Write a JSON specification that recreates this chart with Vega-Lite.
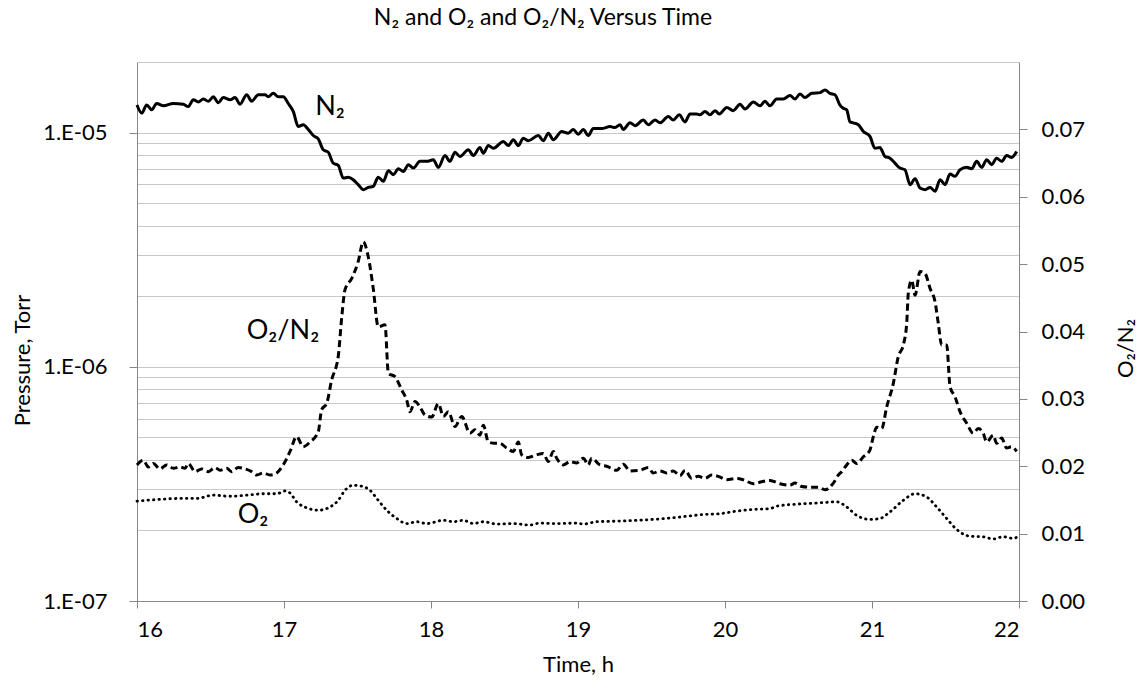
{
  "$schema": "https://vega.github.io/schema/vega-lite/v6.json",
  "width": 882,
  "height": 539,
  "autosize": {"type": "none"},
  "padding": {"left": 137, "top": 62, "right": 122, "bottom": 84},
  "background": "white",
  "config": {
    "font": "Lato",
    "view": {"stroke": null},
    "axis": {
      "labelFont": "Lato", "titleFont": "Lato", "labelColor": "#000", "titleColor": "#000",
      "domainColor": "#868686", "tickColor": "#868686", "labelFontSize": 22, "titleFontSize": 22,
      "titleFontWeight": "normal", "labelOverlap": false
    }
  },
  "title": {"text": "N₂ and O₂ and O₂/N₂ Versus Time", "fontSize": 23, "fontWeight": "normal", "font": "Lato", "color": "#000", "anchor": "middle", "dx": -35, "offset": 21},
  "datasets": {
    "n2": [
      {"t":16.000,"p":1.31e-5},{"t":16.032,"p":1.21e-5},{"t":16.066,"p":1.31e-5},{"t":16.100,"p":1.25e-5},{"t":16.134,"p":1.33e-5},
      {"t":16.179,"p":1.30e-5},{"t":16.247,"p":1.33e-5},{"t":16.315,"p":1.32e-5},{"t":16.349,"p":1.29e-5},{"t":16.383,"p":1.38e-5},
      {"t":16.417,"p":1.35e-5},{"t":16.451,"p":1.39e-5},{"t":16.485,"p":1.36e-5},{"t":16.519,"p":1.42e-5},{"t":16.553,"p":1.34e-5},
      {"t":16.587,"p":1.41e-5},{"t":16.633,"p":1.38e-5},{"t":16.667,"p":1.41e-5},{"t":16.701,"p":1.32e-5},{"t":16.746,"p":1.45e-5},
      {"t":16.780,"p":1.36e-5},{"t":16.825,"p":1.45e-5},{"t":16.871,"p":1.45e-5},{"t":16.893,"p":1.42e-5},{"t":16.927,"p":1.47e-5},
      {"t":16.961,"p":1.42e-5},{"t":16.995,"p":1.42e-5},{"t":17.029,"p":1.33e-5},{"t":17.063,"p":1.23e-5},{"t":17.097,"p":1.06e-5},
      {"t":17.131,"p":1.08e-5},{"t":17.165,"p":1.03e-5},{"t":17.199,"p":9.71e-6},{"t":17.233,"p":9.40e-6},{"t":17.267,"p":8.44e-6},
      {"t":17.301,"p":8.24e-6},{"t":17.335,"p":7.40e-6},{"t":17.369,"p":7.24e-6},{"t":17.403,"p":6.39e-6},{"t":17.437,"p":6.44e-6},
      {"t":17.471,"p":6.29e-6},{"t":17.505,"p":5.99e-6},{"t":17.539,"p":5.70e-6},{"t":17.573,"p":5.83e-6},{"t":17.607,"p":5.89e-6},
      {"t":17.641,"p":6.44e-6},{"t":17.676,"p":6.19e-6},{"t":17.710,"p":6.87e-6},{"t":17.744,"p":6.61e-6},{"t":17.778,"p":7.01e-6},
      {"t":17.812,"p":6.82e-6},{"t":17.846,"p":7.29e-6},{"t":17.880,"p":7.05e-6},{"t":17.925,"p":7.53e-6},{"t":17.971,"p":7.53e-6},
      {"t":18.016,"p":7.65e-6},{"t":18.050,"p":7.10e-6},{"t":18.095,"p":7.98e-6},{"t":18.129,"p":7.53e-6},{"t":18.163,"p":8.24e-6},
      {"t":18.197,"p":7.90e-6},{"t":18.254,"p":8.44e-6},{"t":18.288,"p":7.98e-6},{"t":18.333,"p":8.63e-6},{"t":18.356,"p":8.16e-6},
      {"t":18.390,"p":8.80e-6},{"t":18.424,"p":8.57e-6},{"t":18.492,"p":9.16e-6},{"t":18.526,"p":8.80e-6},{"t":18.560,"p":9.31e-6},
      {"t":18.594,"p":8.80e-6},{"t":18.628,"p":9.46e-6},{"t":18.662,"p":9.22e-6},{"t":18.730,"p":9.71e-6},{"t":18.764,"p":9.22e-6},
      {"t":18.798,"p":9.93e-6},{"t":18.832,"p":9.31e-6},{"t":18.889,"p":1.01e-5},{"t":18.934,"p":9.93e-6},{"t":18.968,"p":1.03e-5},
      {"t":19.002,"p":9.83e-6},{"t":19.036,"p":1.03e-5},{"t":19.070,"p":9.71e-6},{"t":19.104,"p":1.04e-5},{"t":19.161,"p":1.04e-5},
      {"t":19.218,"p":1.06e-5},{"t":19.252,"p":1.05e-5},{"t":19.286,"p":1.08e-5},{"t":19.308,"p":1.03e-5},{"t":19.354,"p":1.10e-5},
      {"t":19.388,"p":1.07e-5},{"t":19.444,"p":1.13e-5},{"t":19.478,"p":1.08e-5},{"t":19.524,"p":1.13e-5},{"t":19.558,"p":1.10e-5},
      {"t":19.614,"p":1.17e-5},{"t":19.648,"p":1.13e-5},{"t":19.689,"p":1.19e-5},{"t":19.728,"p":1.11e-5},{"t":19.762,"p":1.20e-5},
      {"t":19.807,"p":1.20e-5},{"t":19.830,"p":1.19e-5},{"t":19.864,"p":1.23e-5},{"t":19.898,"p":1.19e-5},{"t":19.932,"p":1.24e-5},
      {"t":19.961,"p":1.20e-5},{"t":20.012,"p":1.28e-5},{"t":20.056,"p":1.24e-5},{"t":20.102,"p":1.32e-5},{"t":20.136,"p":1.26e-5},
      {"t":20.193,"p":1.35e-5},{"t":20.238,"p":1.30e-5},{"t":20.272,"p":1.36e-5},{"t":20.306,"p":1.30e-5},{"t":20.352,"p":1.39e-5},
      {"t":20.397,"p":1.39e-5},{"t":20.442,"p":1.44e-5},{"t":20.476,"p":1.39e-5},{"t":20.510,"p":1.46e-5},{"t":20.544,"p":1.41e-5},
      {"t":20.590,"p":1.47e-5},{"t":20.646,"p":1.48e-5},{"t":20.680,"p":1.52e-5},{"t":20.714,"p":1.47e-5},{"t":20.748,"p":1.45e-5},
      {"t":20.782,"p":1.31e-5},{"t":20.805,"p":1.27e-5},{"t":20.828,"p":1.25e-5},{"t":20.850,"p":1.11e-5},{"t":20.873,"p":1.10e-5},
      {"t":20.907,"p":1.08e-5},{"t":20.941,"p":1.01e-5},{"t":20.986,"p":9.62e-6},{"t":21.020,"p":8.57e-6},{"t":21.054,"p":8.63e-6},
      {"t":21.088,"p":7.90e-6},{"t":21.122,"p":7.77e-6},{"t":21.156,"p":7.40e-6},{"t":21.190,"p":7.05e-6},{"t":21.224,"p":6.94e-6},
      {"t":21.259,"p":5.99e-6},{"t":21.293,"p":6.35e-6},{"t":21.327,"p":5.79e-6},{"t":21.361,"p":5.70e-6},{"t":21.395,"p":5.83e-6},
      {"t":21.429,"p":5.61e-6},{"t":21.463,"p":6.29e-6},{"t":21.497,"p":5.99e-6},{"t":21.531,"p":6.65e-6},{"t":21.565,"p":6.50e-6},
      {"t":21.599,"p":6.94e-6},{"t":21.644,"p":7.10e-6},{"t":21.678,"p":7.01e-6},{"t":21.712,"p":7.53e-6},{"t":21.746,"p":7.10e-6},
      {"t":21.780,"p":7.65e-6},{"t":21.814,"p":7.29e-6},{"t":21.848,"p":7.77e-6},{"t":21.882,"p":7.53e-6},{"t":21.916,"p":7.98e-6},
      {"t":21.950,"p":7.83e-6},{"t":21.984,"p":8.30e-6}
    ],
    "o2": [
      {"t":16.000,"p":2.67e-7},{"t":16.134,"p":2.71e-7},{"t":16.293,"p":2.74e-7},{"t":16.406,"p":2.74e-7},{"t":16.519,"p":2.83e-7},
      {"t":16.633,"p":2.80e-7},{"t":16.746,"p":2.83e-7},{"t":16.859,"p":2.87e-7},{"t":16.950,"p":2.87e-7},{"t":17.007,"p":2.95e-7},
      {"t":17.041,"p":2.89e-7},{"t":17.086,"p":2.65e-7},{"t":17.154,"p":2.50e-7},{"t":17.233,"p":2.44e-7},{"t":17.313,"p":2.52e-7},
      {"t":17.369,"p":2.69e-7},{"t":17.415,"p":2.97e-7},{"t":17.471,"p":3.12e-7},{"t":17.529,"p":3.09e-7},{"t":17.585,"p":2.97e-7},
      {"t":17.641,"p":2.69e-7},{"t":17.699,"p":2.44e-7},{"t":17.767,"p":2.25e-7},{"t":17.835,"p":2.14e-7},{"t":17.903,"p":2.18e-7},
      {"t":17.971,"p":2.14e-7},{"t":18.084,"p":2.21e-7},{"t":18.152,"p":2.18e-7},{"t":18.220,"p":2.21e-7},{"t":18.288,"p":2.14e-7},
      {"t":18.356,"p":2.18e-7},{"t":18.447,"p":2.13e-7},{"t":18.560,"p":2.14e-7},{"t":18.673,"p":2.11e-7},{"t":18.741,"p":2.15e-7},
      {"t":18.855,"p":2.14e-7},{"t":18.991,"p":2.15e-7},{"t":19.036,"p":2.13e-7},{"t":19.127,"p":2.18e-7},{"t":19.240,"p":2.19e-7},
      {"t":19.399,"p":2.21e-7},{"t":19.512,"p":2.23e-7},{"t":19.626,"p":2.26e-7},{"t":19.739,"p":2.30e-7},{"t":19.852,"p":2.34e-7},
      {"t":19.966,"p":2.36e-7},{"t":20.080,"p":2.42e-7},{"t":20.193,"p":2.46e-7},{"t":20.306,"p":2.48e-7},{"t":20.352,"p":2.54e-7},
      {"t":20.488,"p":2.59e-7},{"t":20.624,"p":2.62e-7},{"t":20.760,"p":2.65e-7},{"t":20.828,"p":2.52e-7},{"t":20.896,"p":2.32e-7},
      {"t":20.986,"p":2.23e-7},{"t":21.054,"p":2.25e-7},{"t":21.122,"p":2.40e-7},{"t":21.213,"p":2.69e-7},{"t":21.293,"p":2.87e-7},
      {"t":21.372,"p":2.78e-7},{"t":21.440,"p":2.52e-7},{"t":21.508,"p":2.25e-7},{"t":21.576,"p":2.02e-7},{"t":21.667,"p":1.89e-7},
      {"t":21.757,"p":1.88e-7},{"t":21.825,"p":1.84e-7},{"t":21.893,"p":1.88e-7},{"t":21.961,"p":1.85e-7},{"t":21.995,"p":1.89e-7}
    ],
    "ratio": [
      {"t":16.000,"r":0.0202},{"t":16.043,"r":0.0209},{"t":16.077,"r":0.0199},{"t":16.111,"r":0.0204},{"t":16.156,"r":0.0196},
      {"t":16.202,"r":0.0202},{"t":16.247,"r":0.0197},{"t":16.293,"r":0.0199},{"t":16.327,"r":0.0197},{"t":16.349,"r":0.0204},
      {"t":16.395,"r":0.0192},{"t":16.440,"r":0.0196},{"t":16.485,"r":0.0192},{"t":16.531,"r":0.0198},{"t":16.565,"r":0.0194},
      {"t":16.610,"r":0.0197},{"t":16.644,"r":0.0192},{"t":16.689,"r":0.0198},{"t":16.735,"r":0.0196},{"t":16.780,"r":0.0192},
      {"t":16.814,"r":0.0187},{"t":16.859,"r":0.0190},{"t":16.905,"r":0.0187},{"t":16.950,"r":0.0190},{"t":16.995,"r":0.0202},
      {"t":17.041,"r":0.0222},{"t":17.086,"r":0.0244},{"t":17.131,"r":0.0229},{"t":17.177,"r":0.0236},{"t":17.233,"r":0.0251},
      {"t":17.256,"r":0.0284},{"t":17.290,"r":0.0293},{"t":17.324,"r":0.0328},{"t":17.369,"r":0.0363},{"t":17.393,"r":0.0422},
      {"t":17.415,"r":0.0462},{"t":17.461,"r":0.0479},{"t":17.505,"r":0.0504},{"t":17.539,"r":0.0533},{"t":17.573,"r":0.0511},
      {"t":17.607,"r":0.0464},{"t":17.641,"r":0.0407},{"t":17.687,"r":0.0410},{"t":17.710,"r":0.0338},{"t":17.755,"r":0.0333},
      {"t":17.801,"r":0.0313},{"t":17.835,"r":0.0298},{"t":17.857,"r":0.0281},{"t":17.891,"r":0.0296},{"t":17.925,"r":0.0288},
      {"t":17.959,"r":0.0276},{"t":18.005,"r":0.0273},{"t":18.050,"r":0.0293},{"t":18.084,"r":0.0274},{"t":18.118,"r":0.0281},
      {"t":18.163,"r":0.0259},{"t":18.209,"r":0.0274},{"t":18.265,"r":0.0249},{"t":18.299,"r":0.0254},{"t":18.333,"r":0.0246},
      {"t":18.356,"r":0.0261},{"t":18.390,"r":0.0236},{"t":18.435,"r":0.0234},{"t":18.469,"r":0.0234},{"t":18.515,"r":0.0227},
      {"t":18.560,"r":0.0222},{"t":18.594,"r":0.0236},{"t":18.617,"r":0.0217},{"t":18.662,"r":0.0213},{"t":18.719,"r":0.0217},
      {"t":18.764,"r":0.0219},{"t":18.798,"r":0.0207},{"t":18.832,"r":0.0222},{"t":18.855,"r":0.0212},{"t":18.900,"r":0.0202},
      {"t":18.946,"r":0.0207},{"t":18.991,"r":0.0205},{"t":19.036,"r":0.0212},{"t":19.070,"r":0.0202},{"t":19.093,"r":0.0212},
      {"t":19.150,"r":0.0202},{"t":19.195,"r":0.0200},{"t":19.263,"r":0.0194},{"t":19.308,"r":0.0203},{"t":19.354,"r":0.0193},
      {"t":19.422,"r":0.0194},{"t":19.478,"r":0.0198},{"t":19.512,"r":0.0190},{"t":19.558,"r":0.0193},{"t":19.603,"r":0.0190},
      {"t":19.648,"r":0.0193},{"t":19.694,"r":0.0186},{"t":19.728,"r":0.0194},{"t":19.773,"r":0.0182},{"t":19.818,"r":0.0185},
      {"t":19.864,"r":0.0182},{"t":19.909,"r":0.0187},{"t":19.954,"r":0.0185},{"t":20.012,"r":0.0180},{"t":20.080,"r":0.0182},
      {"t":20.124,"r":0.0180},{"t":20.193,"r":0.0174},{"t":20.250,"r":0.0177},{"t":20.306,"r":0.0179},{"t":20.374,"r":0.0174},
      {"t":20.442,"r":0.0172},{"t":20.476,"r":0.0175},{"t":20.522,"r":0.0170},{"t":20.578,"r":0.0169},{"t":20.635,"r":0.0169},
      {"t":20.680,"r":0.0165},{"t":20.737,"r":0.0175},{"t":20.771,"r":0.0187},{"t":20.794,"r":0.0192},{"t":20.828,"r":0.0202},
      {"t":20.862,"r":0.0209},{"t":20.896,"r":0.0204},{"t":20.941,"r":0.0214},{"t":20.986,"r":0.0224},{"t":21.009,"r":0.0244},
      {"t":21.032,"r":0.0258},{"t":21.066,"r":0.0256},{"t":21.100,"r":0.0288},{"t":21.145,"r":0.0323},{"t":21.179,"r":0.0363},
      {"t":21.213,"r":0.0380},{"t":21.236,"r":0.0412},{"t":21.247,"r":0.0457},{"t":21.270,"r":0.0476},{"t":21.293,"r":0.0454},
      {"t":21.327,"r":0.0489},{"t":21.361,"r":0.0486},{"t":21.395,"r":0.0464},{"t":21.429,"r":0.0444},{"t":21.451,"r":0.0412},
      {"t":21.474,"r":0.0380},{"t":21.508,"r":0.0380},{"t":21.531,"r":0.0318},{"t":21.565,"r":0.0303},{"t":21.599,"r":0.0281},
      {"t":21.644,"r":0.0264},{"t":21.689,"r":0.0249},{"t":21.723,"r":0.0256},{"t":21.757,"r":0.0249},{"t":21.780,"r":0.0236},
      {"t":21.825,"r":0.0246},{"t":21.848,"r":0.0234},{"t":21.882,"r":0.0242},{"t":21.916,"r":0.0227},{"t":21.950,"r":0.0229},
      {"t":21.984,"r":0.0222}
    ],
    "labels": [
      {"t":17.313,"p":1.29e-5,"label":"N₂"},
      {"t":16.993,"p":1.42e-6,"label":"O₂/N₂"},
      {"t":16.789,"p":2.32e-7,"label":"O₂"}
    ]
  },
  "layer": [
    {
      "layer": [
        {
          "data": {"name": "n2"},
          "mark": {"type": "line", "color": "#000", "strokeWidth": 3, "interpolate": "monotone", "strokeJoin": "round"},
          "encoding": {
            "x": {"field": "t", "type": "quantitative", "scale": {"domain": [16, 22], "nice": false},
              "axis": {"values": [16,17,18,19,20,21,22], "format": "d", "grid": false, "tickSize": 7, "labelPadding": 11, "title": "Time, h", "titlePadding": 14}},
            "y": {"field": "p", "type": "quantitative", "scale": {"type": "log", "domain": [1e-7, 2e-5], "nice": false},
              "axis": {
                "values": [1e-7,2e-7,3e-7,4e-7,5e-7,6e-7,7e-7,8e-7,9e-7,1e-6,2e-6,3e-6,4e-6,5e-6,6e-6,7e-6,8e-6,9e-6,1e-5,2e-5],
                "grid": true, "gridColor": "#c8c8c8", "gridWidth": 1,
                "tickSize": 8,
                "tickOpacity": {"condition": {"test": "abs(log(datum.value)/LN10 - round(log(datum.value)/LN10)) < 0.001", "value": 1}, "value": 0},
                "labelExpr": "abs(log(datum.value)/LN10 - round(log(datum.value)/LN10)) < 0.001 ? '1.E-0' + (-round(log(datum.value)/LN10)) : ''",
                "labelPadding": 22,
                "title": "Pressure, Torr", "titleAngle": 270, "titleX": -115, "titleY": 298, "titleAlign": "center", "titleBaseline": "middle"
              }}
          }
        },
        {
          "data": {"name": "o2"},
          "mark": {"type": "line", "color": "#000", "strokeWidth": 2.8, "strokeDash": [0.5, 5], "strokeCap": "round", "interpolate": "monotone"},
          "encoding": {
            "x": {"field": "t", "type": "quantitative"},
            "y": {"field": "p", "type": "quantitative"}
          }
        },
        {
          "data": {"name": "labels"},
          "mark": {"type": "text", "fontSize": 27, "font": "Lato", "color": "#000", "align": "center", "baseline": "middle"},
          "encoding": {
            "x": {"field": "t", "type": "quantitative"},
            "y": {"field": "p", "type": "quantitative"},
            "text": {"field": "label"}
          }
        }
      ]
    },
    {
      "data": {"name": "ratio"},
      "mark": {"type": "line", "color": "#000", "strokeWidth": 3, "strokeDash": [7, 4], "interpolate": "monotone"},
      "encoding": {
        "x": {"field": "t", "type": "quantitative"},
        "y": {"field": "r", "type": "quantitative", "scale": {"domain": [0, 0.08], "nice": false},
          "axis": {"orient": "right", "values": [0,0.01,0.02,0.03,0.04,0.05,0.06,0.07], "format": ".2f", "grid": false,
            "tickSize": 8, "labelPadding": 14,
            "title": "O₂/N₂", "titleAngle": 270, "titleX": 106, "titleY": 286, "titleAlign": "center", "titleBaseline": "middle"}}
      }
    }
  ],
  "resolve": {"scale": {"y": "independent"}}
}
